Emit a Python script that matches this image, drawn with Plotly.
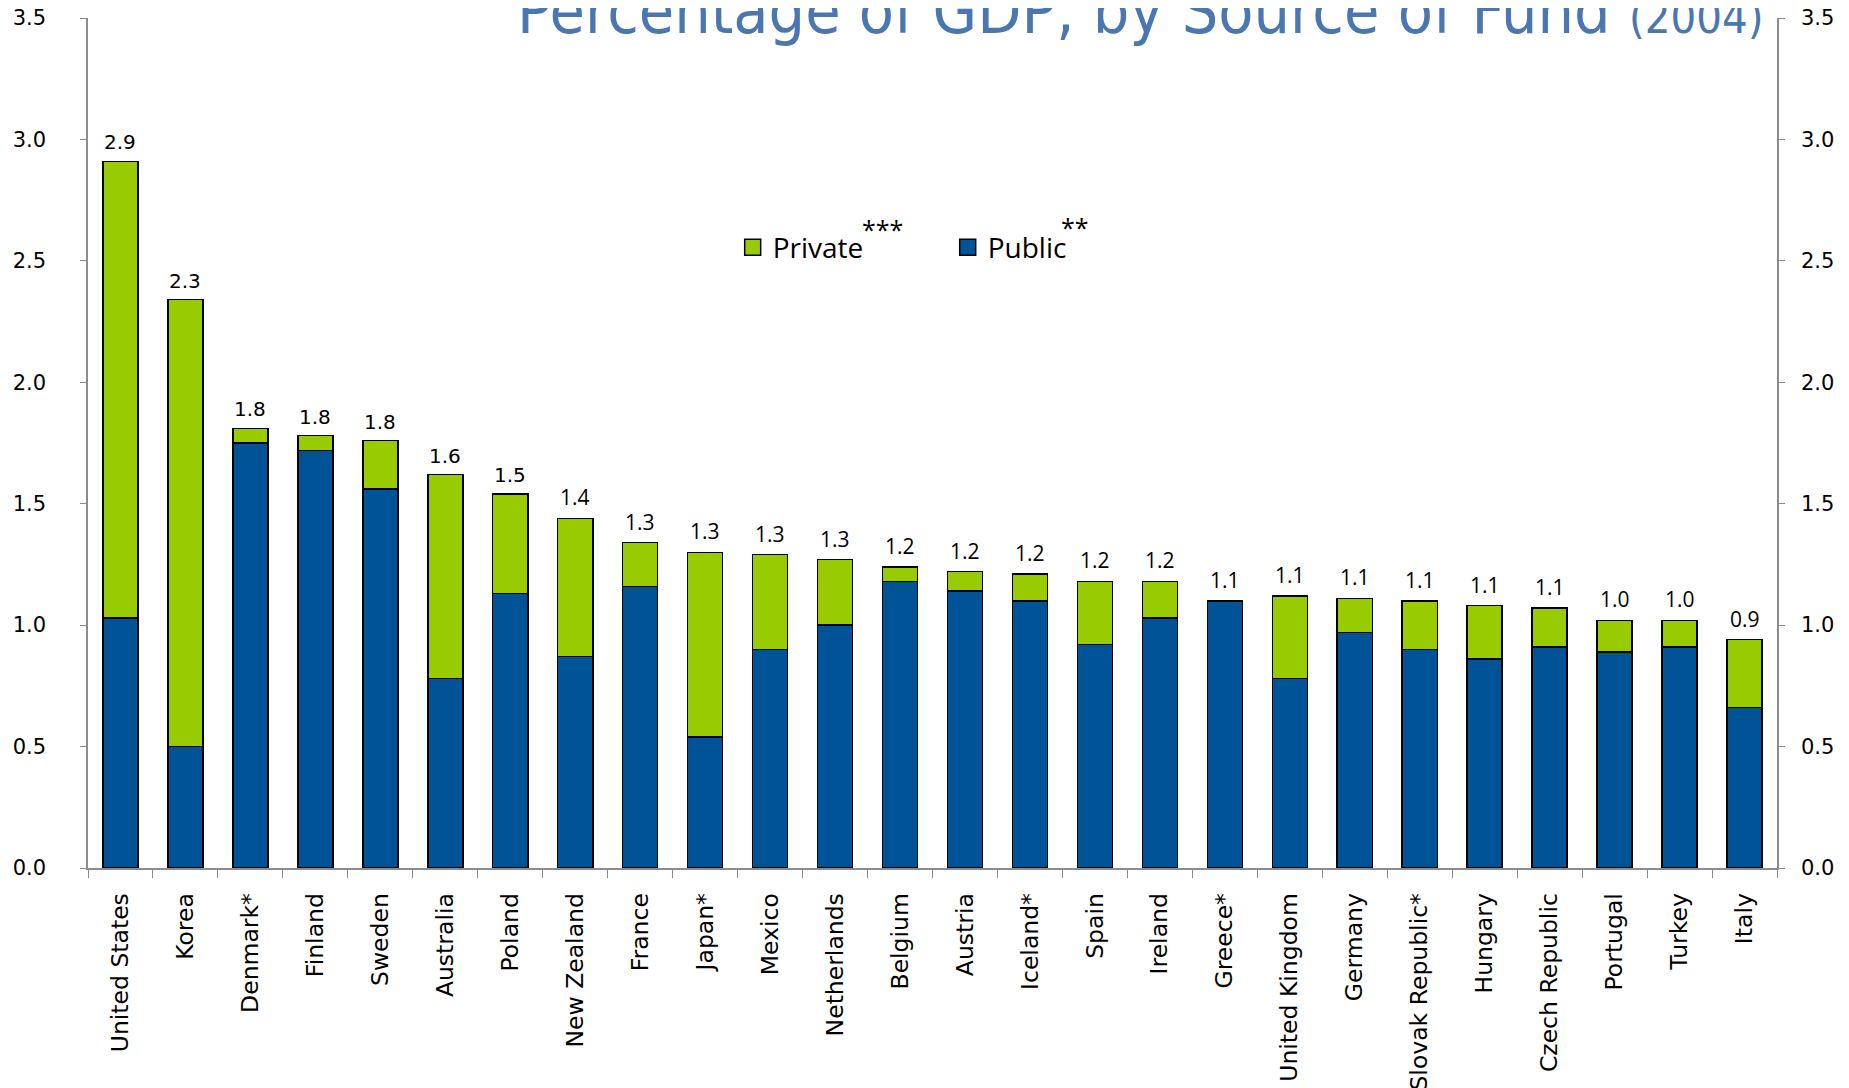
import plotly.graph_objects as go

countries = ["United States", "Korea", "Denmark*", "Finland", "Sweden", "Australia", "Poland",
             "New Zealand", "France", "Japan*", "Mexico", "Netherlands", "Belgium", "Austria",
             "Iceland*", "Spain", "Ireland", "Greece*", "United Kingdom", "Germany",
             "Slovak Republic*", "Hungary", "Czech Republic", "Portugal", "Turkey", "Italy"]
public = [1.03, 0.50, 1.75, 1.72, 1.56, 0.78, 1.13, 0.87, 1.16, 0.54, 0.90, 1.00, 1.18, 1.14,
          1.10, 0.92, 1.03, 1.10, 0.78, 0.97, 0.90, 0.86, 0.91, 0.89, 0.91, 0.66]
private = [1.88, 1.84, 0.06, 0.06, 0.20, 0.84, 0.41, 0.57, 0.18, 0.76, 0.39, 0.27, 0.06, 0.08,
           0.11, 0.26, 0.15, 0.00, 0.34, 0.14, 0.20, 0.22, 0.16, 0.13, 0.11, 0.28]
y_ticks = [0.0, 0.5, 1.0, 1.5, 2.0, 2.5, 3.0, 3.5]

total = [round(a + b, 2) for a, b in zip(public, private)]
labels = [f"{t:.1f}" for t in total]
label_fonts = ["DejaVu Sans"] * 7 + ["Open Sans"] * (len(countries) - 7)
label_sizes = [20] * 7 + [21] * (len(countries) - 7)

PUBLIC_C = "#005396"
PRIVATE_C = "#99cc00"
AXIS_C = "#8c8c8c"
TITLE_C = "#4a76b2"

fig = go.Figure()
fig.add_trace(go.Bar(x=countries, y=public, name="Public",
                     marker=dict(color=PUBLIC_C, line=dict(color="black", width=1.5)),
                     showlegend=False, hoverinfo="x+y"))
fig.add_trace(go.Bar(x=countries, y=private, name="Private",
                     marker=dict(color=PRIVATE_C, line=dict(color="black", width=1.5)),
                     showlegend=False, hoverinfo="x+y"))
# legend entries
fig.add_trace(go.Scatter(x=[countries[0]], y=[None], mode="markers", name="Private",
                         marker=dict(symbol="square", size=17, color=PRIVATE_C, line=dict(color="black", width=1.5))))
fig.add_trace(go.Scatter(x=[countries[0]], y=[None], mode="markers", name="Public",
                         marker=dict(symbol="square", size=17, color=PUBLIC_C, line=dict(color="black", width=1.5))))
# right axis carrier
fig.add_trace(go.Scatter(x=countries, y=total, yaxis="y2", mode="markers", marker=dict(opacity=0),
                         showlegend=False, hoverinfo="skip"))

annotations = []
for c, t, lab, fam, sz in zip(countries, total, labels, label_fonts, label_sizes):
    annotations.append(dict(x=c, y=t, xref="x", yref="y", text=lab, showarrow=False,
                            yanchor="bottom", xanchor="center", yshift=5,
                            font=dict(family=fam, size=sz, color="black")))
annotations.append(dict(xref="paper", yref="paper", x=0.993, y=0.962, xanchor="right", yanchor="bottom",
                        text="Percentage of GDP, by Source of Fund <span style='font-size:45px'>(2004)</span>",
                        showarrow=False,
                        font=dict(family="DejaVu Sans Condensed, Liberation Sans Narrow, Roboto Condensed, sans-serif",
                                  size=64, color=TITLE_C)))
# footnote markers next to legend entries
annotations.append(dict(xref="paper", yref="paper", x=0.4703, y=0.7515, xanchor="center", yanchor="middle",
                        text="***", showarrow=False, font=dict(family="Open Sans, sans-serif", size=25, color="black")))
annotations.append(dict(xref="paper", yref="paper", x=0.5845, y=0.7545, xanchor="center", yanchor="middle",
                        text="**", showarrow=False, font=dict(family="Open Sans, sans-serif", size=25, color="black")))

axis_font = dict(family="DejaVu Sans, Verdana, sans-serif", size=21, color="black")
fig.update_layout(
    width=1849, height=1088,
    margin=dict(l=80, r=80, t=10, b=228, autoexpand=False),
    paper_bgcolor="white", plot_bgcolor="white",
    barmode="stack", bargap=0.46,
    showlegend=True,
    legend=dict(orientation="h", x=0.3817, y=0.730, xanchor="left", yanchor="middle", traceorder="normal",
                font=dict(family="Open Sans, sans-serif", size=28, color="black"),
                itemsizing="trace", entrywidth=170, entrywidthmode="pixels", bgcolor="rgba(0,0,0,0)"),
    xaxis=dict(range=[-0.5, len(countries) - 0.5], showline=True, linecolor=AXIS_C, linewidth=1.5,
               ticks="outside", tickson="boundaries", automargin=False,
               ticklen=8, tickcolor=AXIS_C, tickangle=-90,
               tickfont=dict(family="DejaVu Sans, Verdana, sans-serif", size=23.5, color="black"),
               ticklabelstandoff=14, showgrid=False, zeroline=False),
    yaxis=dict(range=[0, 3.5], tickvals=y_ticks, tickformat=".1f", showline=True, linecolor=AXIS_C, linewidth=1.5,
               ticks="outside", ticklen=6, tickcolor=AXIS_C, tickfont=axis_font, ticklabelstandoff=30,
               ticklabeloverflow="allow", showgrid=False, zeroline=False, automargin=False),
    yaxis2=dict(range=[0, 3.5], tickvals=y_ticks, tickformat=".1f", overlaying="y", side="right", showline=True,
                linecolor=AXIS_C, linewidth=1.5, ticks="outside", ticklen=6, tickcolor=AXIS_C, tickfont=axis_font,
                ticklabelstandoff=12, ticklabeloverflow="allow", showgrid=False, zeroline=False, automargin=False),
    annotations=annotations,
)

fig.write_html("out.html")
